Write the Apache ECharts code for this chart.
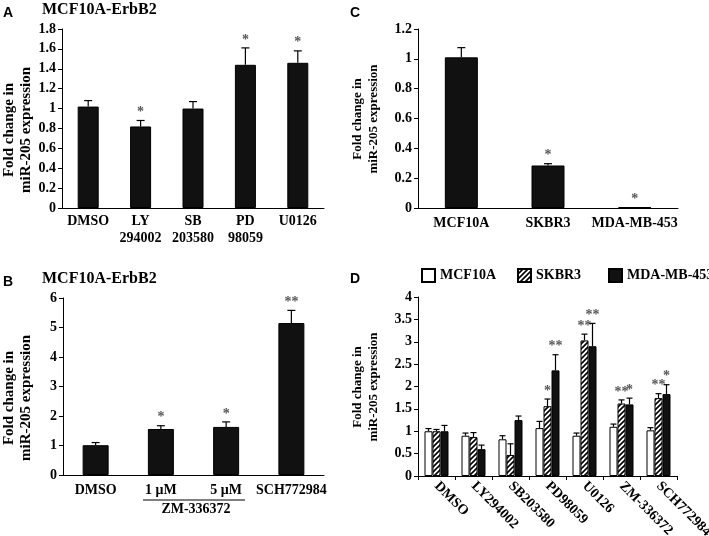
<!DOCTYPE html>
<html lang="en">
<head>
<meta charset="UTF-8" />
<script src="https://cdn.jsdelivr.net/npm/echarts@6/dist/echarts.min.js"></script>
<title>miR-205 fold change</title>
<style>
  html, body { margin: 0; padding: 0; background: #fff; }
  #container { width: 709px; height: 536px; }
</style>
</head>
<body>
<div id="container"></div>
<script>
// panel A
const aCats = ['DMSO', 'LY\n294002', 'SB\n203580', 'PD\n98059', 'U0126'];
const aMeans = [1.02, 0.82, 1.0, 1.44, 1.46];
const aErr = [0.06, 0.06, 0.07, 0.17, 0.12];
const aStars = ['', '*', '', '*', '*'];

// panel B
const bCats = ['DMSO', '1 \u03bcM', '5 \u03bcM', 'SCH772984'];
const bMeans = [1.01, 1.56, 1.63, 5.15];
const bErr = [0.09, 0.11, 0.17, 0.43];
const bStars = ['', '*', '*', '**'];

// panel C
const cCats = ['MCF10A', 'SKBR3', 'MDA-MB-453'];
const cMeans = [1.01, 0.285, 0.006];
const cErr = [0.065, 0.012, 0];
const cStars = ['', '*', '*'];

// panel D
const dCats = ['DMSO', 'LY294002', 'SB203580', 'PD98059', 'U0126', 'ZM-336372', 'SCH772984'];
const dMcf = [1.0, 0.9, 0.82, 1.07, 0.9, 1.1, 1.02];
const dMcfErr = [0.06, 0.06, 0.08, 0.15, 0.06, 0.06, 0.06];
const dSkbr = [1.0, 0.87, 0.47, 1.56, 3.03, 1.62, 1.74];
const dSkbrErr = [0.04, 0.1, 0.25, 0.16, 0.14, 0.08, 0.1];
const dMda = [1.0, 0.6, 1.25, 2.36, 2.9, 1.6, 1.83];
const dMdaErr = [0.13, 0.09, 0.09, 0.35, 0.51, 0.14, 0.21];
const dSkbrStars = ['', '', '', '*', '**', '**', '**'];
const dMdaStars = ['', '', '', '**', '**', '*', '*'];

const serif = 'Liberation Serif';
const chart = echarts.init(document.getElementById('container'));

// diagonal hatch for SKBR3
const hatch = document.createElement('canvas');
hatch.width = 5; hatch.height = 5;
(function () {
  const c = hatch.getContext('2d');
  c.fillStyle = '#fff';
  c.fillRect(0, 0, 5, 5);
  c.strokeStyle = '#000';
  c.lineWidth = 1.6;
  c.beginPath();
  c.moveTo(-1, 6); c.lineTo(6, -1);
  c.moveTo(-1, 1); c.lineTo(1, -1);
  c.moveTo(4, 6); c.lineTo(6, 4);
  c.stroke();
})();

function pairs(means, errs) {
  return means.map((m, i) => [i, m, errs[i]]);
}

// error bar + significance stars, drawn on top of a bar
function errRender(offset, capHalf, stars) {
  return function (params, api) {
    const i = api.value(0), mean = api.value(1), err = api.value(2);
    const p0 = api.coord([i, mean]);
    const p1 = api.coord([i, mean + err]);
    const x = p0[0] + offset;
    const kids = [];
    if (err > 0) {
      kids.push({ type: 'line', shape: { x1: x, y1: p0[1], x2: x, y2: p1[1] }, style: { stroke: '#000', lineWidth: 1.2 } });
      kids.push({ type: 'line', shape: { x1: x - capHalf, y1: p1[1], x2: x + capHalf, y2: p1[1] }, style: { stroke: '#000', lineWidth: 1.2 } });
    }
    const s = stars[params.dataIndex];
    if (s) {
      kids.push({
        type: 'text', x: x, y: p1[1] - 1,
        style: { text: s, fill: '#555', font: 'bold 14px "' + serif + '"', align: 'center', verticalAlign: 'bottom' }
      });
    }
    return { type: 'group', children: kids };
  };
}

const labelStyle = { color: '#000', fontFamily: serif, fontWeight: 'bold', fontSize: 14 };
const axisLine = { show: true, lineStyle: { color: '#000', width: 1 } };

function yAx(grid, max, step) {
  return {
    type: 'value', gridIndex: grid, min: 0, max: max, interval: step,
    splitLine: { show: false },
    axisLine: axisLine,
    axisTick: { show: true, length: 4, lineStyle: { color: '#000' } },
    axisLabel: Object.assign({ margin: 6 }, labelStyle)
  };
}

function bar(name, grid, data, width, color) {
  return {
    name: name, type: 'bar', xAxisIndex: grid, yAxisIndex: grid,
    data: data, barWidth: width, barGap: '0%',
    itemStyle: { color: color, borderColor: '#000', borderWidth: 1 },
    silent: true
  };
}

function errSeries(grid, means, errs, offset, capHalf, stars) {
  return {
    type: 'custom', xAxisIndex: grid, yAxisIndex: grid,
    data: pairs(means, errs), renderItem: errRender(offset, capHalf, stars),
    z: 5, silent: true
  };
}

function legendItem(name, left) {
  return {
    left: left, top: 268, padding: 0,
    itemWidth: 13, itemHeight: 13, icon: 'rect',
    data: [name],
    textStyle: { color: '#000', fontFamily: serif, fontWeight: 'bold', fontSize: 14 }
  };
}

function yName(x, y, size, lh) {
  return {
    type: 'text', x: x, y: y, rotation: Math.PI / 2,
    style: {
      text: 'Fold change in\nmiR-205 expression',
      font: 'bold ' + size + 'px "' + serif + '"', fill: '#000',
      align: 'center', verticalAlign: 'middle', lineHeight: lh
    }
  };
}

function txt(x, y, s, font, align) {
  return { type: 'text', x: x, y: y, style: { text: s, font: font, fill: '#000', align: align || 'left', verticalAlign: 'middle' } };
}

const option = {
  animation: false,
  grid: [
    { left: 62, top: 29, width: 262, height: 179, outerBoundsMode: 'none' },
    { left: 63, top: 298, width: 261, height: 177, outerBoundsMode: 'none' },
    { left: 418, top: 29, width: 260, height: 179, outerBoundsMode: 'none' },
    { left: 418, top: 297, width: 259, height: 179, outerBoundsMode: 'none' }
  ],
  xAxis: [
    { type: 'category', gridIndex: 0, data: aCats, axisLine: axisLine, axisTick: { show: false },
      axisLabel: Object.assign({ margin: 5, lineHeight: 17, interval: 0 }, labelStyle) },
    { type: 'category', gridIndex: 1, data: bCats, axisLine: axisLine, axisTick: { show: false },
      axisLabel: Object.assign({ margin: 8, interval: 0 }, labelStyle) },
    { type: 'category', gridIndex: 2, data: cCats, axisLine: axisLine, axisTick: { show: false },
      axisLabel: Object.assign({ margin: 8, interval: 0 }, labelStyle) },
    { type: 'category', gridIndex: 3, data: dCats, axisLine: axisLine,
      axisTick: { show: true, length: 4, lineStyle: { color: '#000' } },
      axisLabel: Object.assign({ margin: 8, interval: 0, rotate: -45 }, labelStyle) }
  ],
  yAxis: [yAx(0, 1.8, 0.2), yAx(1, 6, 1), yAx(2, 1.2, 0.2), yAx(3, 4, 0.5)],
  legend: [
    legendItem('MCF10A', 421),
    legendItem('SKBR3', 517),
    legendItem('MDA-MB-453', 608)
  ],
  series: [
    bar('A', 0, aMeans, 21, '#111'),
    errSeries(0, aMeans, aErr, 0, 4, aStars),
    bar('B', 1, bMeans, 26, '#111'),
    errSeries(1, bMeans, bErr, 0, 4, bStars),
    bar('C', 2, cMeans, 33, '#111'),
    errSeries(2, cMeans, cErr, 0, 4, cStars),
    bar('MCF10A', 3, dMcf, 8, '#fff'),
    bar('SKBR3', 3, dSkbr, 8, { image: hatch, repeat: 'repeat' }),
    bar('MDA-MB-453', 3, dMda, 8, '#111'),
    errSeries(3, dMcf, dMcfErr, -8, 3, dMcf.map(() => '')),
    errSeries(3, dSkbr, dSkbrErr, 0, 3, dSkbrStars),
    errSeries(3, dMda, dMdaErr, 8, 3, dMdaStars)
  ],
  graphic: [
    txt(3, 13, 'A', 'bold 14px "Liberation Sans"'),
    txt(3, 282, 'B', 'bold 14px "Liberation Sans"'),
    txt(350, 13, 'C', 'bold 14px "Liberation Sans"'),
    txt(350, 279, 'D', 'bold 14px "Liberation Sans"'),
    txt(42, 10, 'MCF10A-ErbB2', 'bold 16px "' + serif + '"'),
    txt(42, 279, 'MCF10A-ErbB2', 'bold 16px "' + serif + '"'),
    yName(18, 130, 15, 17),
    yName(18, 398, 15, 17),
    yName(366, 119, 13, 16),
    yName(366, 387, 13, 16),
    { type: 'line', shape: { x1: 143, y1: 500, x2: 245, y2: 500 }, style: { stroke: '#000', lineWidth: 1 } },
    txt(196, 509, 'ZM-336372', 'bold 14px "' + serif + '"', 'center')
  ]
};

chart.setOption(option);
</script>
</body>
</html>
